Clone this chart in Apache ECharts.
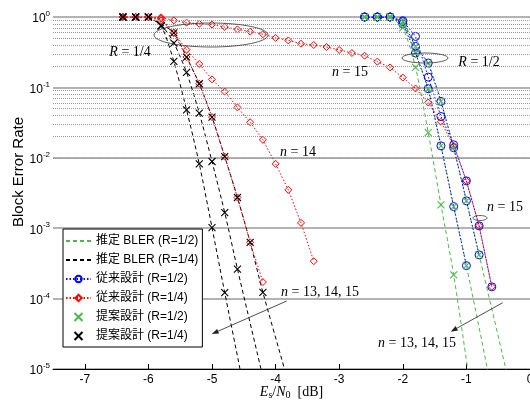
<!DOCTYPE html>
<html><head><meta charset="utf-8">
<script src="https://cdn.jsdelivr.net/npm/echarts@6/dist/echarts.min.js"></script>
<style>html,body{margin:0;padding:0;background:#fff}#c{width:530px;height:403px}</style>
</head><body><div id="c"></div>
<script>
// ---------------- data ----------------
const xTicks = [-7, -6, -5, -4, -3, -2, -1, 0];
const yTicks = [1e-5, 1e-4, 1e-3, 1e-2, 1e-1, 1];

// Es/N0 grids (dB)
const esn0_R4 = [-6.4,-6.2,-6.0,-5.8,-5.6,-5.4,-5.2,-5.0,-4.8,-4.6,-4.4,-4.2,-4.0,-3.8,-3.6,-3.4,-3.2,-3.0,-2.8,-2.6,-2.4,-2.2,-2.0,-1.8,-1.6,-1.4,-1.2,-1.0,-0.8,-0.6];
const esn0_R2 = [-2.6,-2.4,-2.2,-2.0,-1.8,-1.6,-1.4,-1.2,-1.0,-0.8,-0.6];

// 従来設計 (R=1/4), n = 13, 14, 15
const conv_R4_n13 = [1,1,1,0.9,0.59,0.27,0.113,0.0379,0.0104,0.00273,6.3e-4,1.72e-4];
const conv_R4_n14 = [1,1,1,0.95,0.6,0.343,0.215,0.13,0.087,0.052,0.032,0.018,0.0082,0.0035,0.00119,3.4e-4];
const conv_R4_n15 = [1,1,1,0.99,0.895,0.83,0.80,0.78,0.72,0.667,0.62,0.57,0.505,0.465,0.417,0.40,0.375,0.34,0.308,0.282,0.232,0.192,0.138,0.0966,0.061,0.0325,0.0148,0.0047,0.00108,1.47e-4];

// 提案設計 (R=1/4)
const prop_R4_n13 = [1,1,1,0.75,0.234,0.048,0.0082,0.00102,1.22e-4];
const prop_R4_n14 = [1,1,1,0.75,0.427,0.163,0.0432,0.00886,0.00167,2.63e-4];
const prop_R4_n15 = [1,1,1,0.75,0.593,0.27,0.1127,0.0379,0.0104,0.00273,6.3e-4,1.23e-4];

// 推定 BLER (R=1/4)
const est_R4_n13_x = [-6.0,-5.8,-5.6,-5.4,-5.2,-5.0,-4.8,-4.56,-4.45];
const est_R4_n13_y = [1,0.75,0.234,0.048,0.0082,0.00102,1.22e-4,1e-5,3e-6];
const est_R4_n14_x = [-6.0,-5.8,-5.6,-5.4,-5.2,-5.0,-4.8,-4.6,-4.23,-4.1];
const est_R4_n14_y = [1,0.78,0.427,0.163,0.0432,0.00886,0.00167,2.63e-4,1e-5,3e-6];
const est_R4_n15_x = [-6.0,-5.8,-5.6,-5.4,-5.2,-5.0,-4.8,-4.6,-4.4,-4.2,-3.86,-3.7];
const est_R4_n15_y = [1,0.8,0.593,0.27,0.1127,0.0379,0.0104,0.00273,6.3e-4,1.23e-4,1e-5,3e-6];

// 従来設計 (R=1/2)
const conv_R2_n13 = [1,1,1,0.80,0.308,0.0957,0.0148,0.00203,2.94e-4];
const conv_R2_n14 = [1,1,1,0.857,0.382,0.222,0.0632,0.0139,0.00245,4.18e-4];
const conv_R2_n15 = [1,1,1,0.886,0.53,0.14,0.0386,0.0153,0.0047,0.00108,1.47e-4];

// 提案設計 (R=1/2)
const prop_R2_n13 = [1,1,1,0.7,0.193,0.0227,0.00215,2.17e-4];
const prop_R2_n14 = [1,1,1,0.80,0.308,0.0957,0.0148,0.00203,2.94e-4];
const prop_R2_n15 = [1,1,1,0.857,0.382,0.222,0.0632,0.0139,0.00245,4.18e-4];

// 推定 BLER (R=1/2)
const est_R2_n13_x = [-2.2,-2.0,-1.8,-1.6,-1.4,-1.2,-0.98,-0.9];
const est_R2_n13_y = [1,0.7,0.193,0.0227,0.00215,2.17e-4,1e-5,3e-6];
const est_R2_n14_x = [-2.2,-2.0,-1.8,-1.6,-1.4,-1.2,-1.0,-0.67,-0.57];
const est_R2_n14_y = [1,0.8,0.308,0.0957,0.0148,0.00203,2.94e-4,1e-5,3e-6];
const est_R2_n15_x = [-2.2,-2.0,-1.8,-1.6,-1.4,-1.2,-1.0,-0.8,-0.38,-0.25];
const est_R2_n15_y = [1,0.857,0.382,0.222,0.0632,0.0139,0.00245,4.18e-4,1e-5,3e-6];

const legendNames = ['推定 BLER (R=1/2)','推定 BLER (R=1/4)','従来設計 (R=1/2)','従来設計 (R=1/4)','提案設計 (R=1/2)','提案設計 (R=1/4)'];

// ---------------- helpers ----------------
const pair = (xs, ys) => ys.map((y, i) => [xs[i], y]);
const GREEN = '#4cb84c', BLACK = '#000', BLUE = '#0000ff', RED = '#ff0000';
const XPATH = 'path://M0,0L10,10M10,0L0,10';
const SANS = '"Liberation Sans", Arial, "Noto Sans CJK JP", sans-serif';
const SERIF = '"Liberation Serif", "DejaVu Serif", serif';
const CLEAR = 'rgba(255,255,255,0)';

function estLine(name, xs, ys, color) {
  return { type: 'line', name, data: pair(xs, ys), symbol: 'none', smooth: 0.25, z: 3,
    lineStyle: { color, width: 1, type: [4, 3] }, itemStyle: { color: CLEAR, borderColor: CLEAR } };
}
function convLine(name, xs, ys, color, sym, size) {
  return { type: 'line', name, data: pair(xs, ys), symbol: sym, symbolSize: size, showSymbol: true, z: 4,
    lineStyle: { color, width: 1, type: [1.5, 2] },
    itemStyle: { color: CLEAR, borderColor: color, borderWidth: 1 } };
}
function propScatter(name, xs, ys, color) {
  return { type: 'scatter', name, data: pair(xs, ys), symbol: XPATH, symbolSize: 7, z: 5,
    itemStyle: { color: color, borderColor: color, borderWidth: 1.1, opacity: 1 } };
}

// minor log gridlines (2..9 × 10^e)
const minorVals = [];
for (let e = -5; e < 0; e++) for (let d = 2; d <= 9; d++) minorVals.push(d * Math.pow(10, e));

const series = [
  { type: 'line', data: [], silent: true, z: 1,
    markLine: { silent: true, symbol: 'none', label: { show: false }, animation: false,
      lineStyle: { color: '#999', width: 1, type: [1, 1] },
      data: minorVals.map(v => ({ yAxis: v })) } },
  estLine(legendNames[0], est_R2_n13_x, est_R2_n13_y, GREEN),
  estLine(legendNames[0], est_R2_n14_x, est_R2_n14_y, GREEN),
  estLine(legendNames[0], est_R2_n15_x, est_R2_n15_y, GREEN),
  estLine(legendNames[1], est_R4_n13_x, est_R4_n13_y, BLACK),
  estLine(legendNames[1], est_R4_n14_x, est_R4_n14_y, BLACK),
  estLine(legendNames[1], est_R4_n15_x, est_R4_n15_y, BLACK),
  convLine(legendNames[2], esn0_R2, conv_R2_n13, BLUE, 'circle', 8),
  convLine(legendNames[2], esn0_R2, conv_R2_n14, BLUE, 'circle', 8),
  convLine(legendNames[2], esn0_R2, conv_R2_n15, BLUE, 'circle', 8),
  convLine(legendNames[3], esn0_R4, conv_R4_n13, RED, 'diamond', 7),
  convLine(legendNames[3], esn0_R4, conv_R4_n14, RED, 'diamond', 7),
  convLine(legendNames[3], esn0_R4, conv_R4_n15, RED, 'diamond', 7),
  propScatter(legendNames[4], esn0_R2, prop_R2_n13, GREEN),
  propScatter(legendNames[4], esn0_R2, prop_R2_n14, GREEN),
  propScatter(legendNames[4], esn0_R2, prop_R2_n15, GREEN),
  propScatter(legendNames[5], esn0_R4, prop_R4_n13, BLACK),
  propScatter(legendNames[5], esn0_R4, prop_R4_n14, BLACK),
  propScatter(legendNames[5], esn0_R4, prop_R4_n15, BLACK)
];

// annotations
function mathText(x, y, parts) {
  return { type: 'text', x, y, z: 20, style: { rich: {
      i: { fontFamily: SERIF, fontStyle: 'italic', fontSize: 14, fill: '#000' },
      r: { fontFamily: SERIF, fontSize: 14, fill: '#000' } },
    text: parts, align: 'center', verticalAlign: 'middle' } };
}
function ellipse(cx, cy, rx, ry) {
  return { type: 'ellipse', z: 20, shape: { cx, cy, rx, ry }, style: { fill: 'none', stroke: '#333', lineWidth: 0.8 } };
}
function arrow(x1, y1, x2, y2) {
  const dx = x2 - x1, dy = y2 - y1, L = Math.hypot(dx, dy), ux = dx / L, uy = dy / L;
  const hl = 7, hw = 2.5;
  const bx = x2 - ux * hl, by = y2 - uy * hl;
  return [
    { type: 'line', z: 20, shape: { x1, y1, x2: bx, y2: by }, style: { stroke: '#222', lineWidth: 0.8 } },
    { type: 'polygon', z: 20, shape: { points: [[x2, y2], [bx - uy * hw, by + ux * hw], [bx + uy * hw, by - ux * hw]] }, style: { fill: '#222' } }
  ];
}

const graphics = [
  { type: 'text', x: 19, y: 172, rotation: Math.PI / 2, z: 20,
    style: { text: 'Block Error Rate', fontFamily: SANS, fontSize: 15, fill: '#000', align: 'center', verticalAlign: 'middle' } },
  ellipse(211, 35, 57, 12),
  mathText(130, 52, '{i|R}{r| = 1/4}'),
  ellipse(425, 58, 23, 5),
  mathText(479, 62, '{i|R}{r| = 1/2}'),
  mathText(350, 72, '{i|n}{r| = 15}'),
  mathText(298, 152, '{i|n}{r| = 14}'),
  mathText(505, 207, '{i|n}{r| = 15}'),
  ellipse(480, 218, 7, 2.5),
  mathText(320, 292, '{i|n}{r| = 13, 14, 15}'),
  ...arrow(286.7, 301, 211.7, 334),
  mathText(417, 343, '{i|n}{r| = 13, 14, 15}'),
  ...arrow(502.7, 302.7, 450.7, 331.7)
];

const chart = echarts.init(document.getElementById('c'), null, { renderer: 'canvas' });
chart.setOption({
  animation: false,
  backgroundColor: '#fff',
  grid: { left: 53, top: 17, right: 0, bottom: 34, containLabel: false, outerBoundsMode: 'none' },
  xAxis: {
    type: 'value', min: -7.5, max: 0,
    axisLine: { lineStyle: { color: '#000', width: 1 } },
    axisTick: { inside: true, length: 5, lineStyle: { color: '#000' }, customValues: xTicks },
    axisLabel: { customValues: xTicks, color: '#000', fontSize: 12, fontFamily: SANS, margin: 5,
      formatter: v => String(v) },
    splitLine: { show: false },
    name: '{i|E}{sub|s}{r|/}{i|N}{sub|0}{r|  [dB]}', nameLocation: 'middle', nameGap: 16,
    nameMoveOverlap: false,
    nameTextStyle: { rich: {
      i: { fontFamily: SERIF, fontStyle: 'italic', fontSize: 14, color: '#000' },
      r: { fontFamily: SERIF, fontSize: 14, color: '#000' },
      sub: { fontFamily: SERIF, fontSize: 10, color: '#000', padding: [5, 0, 0, 0] } } }
  },
  yAxis: {
    type: 'log', logBase: 10, min: 1e-5, max: 1, splitNumber: 5,
    axisLine: { lineStyle: { color: '#000', width: 1 } },
    axisTick: { inside: true, length: 5, lineStyle: { color: '#000' } },
    axisLabel: { color: '#000', margin: 3,
      formatter: v => '{b|10}{e|' + Math.round(Math.log10(v)) + '}',
      rich: { b: { fontFamily: SANS, fontSize: 12, color: '#000', padding: [4, 0, 0, 0] },
              e: { fontFamily: SANS, fontSize: 8, color: '#000', padding: [0, 0, 6, 0] } } },
    splitLine: { show: true, lineStyle: { color: '#9a9a9a', width: 1.5 } }
  },
  legend: {
    data: legendNames, orient: 'vertical', left: 63, top: 229,
    backgroundColor: '#fff', borderColor: '#000', borderWidth: 1, borderRadius: 0,
    padding: [6, 4, 5, 2], itemGap: 7, itemWidth: 25, itemHeight: 8,
    textStyle: { fontFamily: SANS, fontSize: 12, color: '#000' },
    selectedMode: false, z: 10
  },
  series,
  graphic: graphics
});
</script></body></html>
